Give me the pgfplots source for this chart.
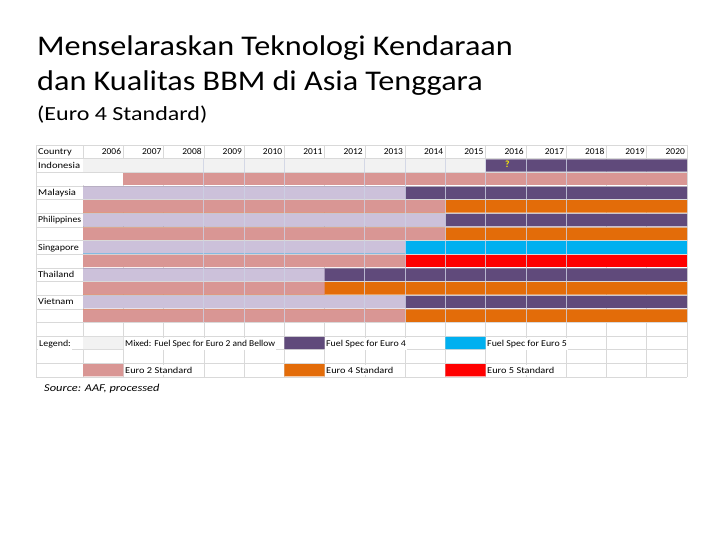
\documentclass[border=0pt]{standalone}
\usepackage{graphicx}
\usepackage{pgfplots}
\pgfplotsset{compat=1.18}
\usepackage{fontspec}
\setmainfont{Carlito}

\definecolor{cPurple}{RGB}{96,74,123}
\definecolor{cOrange}{RGB}{227,108,9}
\definecolor{cCyan}{RGB}{0,176,240}
\definecolor{cRed}{RGB}{255,0,0}
\definecolor{cPink}{RGB}{217,150,148}
\definecolor{cLav}{RGB}{204,193,218}
\definecolor{cMixed}{RGB}{242,242,242}
\definecolor{cGrid}{RGB}{217,217,217}
\definecolor{cOver}{RGB}{205,210,228}

% the slide text is set a bit wide
\newcommand\wide[2]{\scalebox{#1}[1]{#2}}

\begin{document}
\begin{tikzpicture}
\path[use as bounding box] (0,0) rectangle (720pt,-540pt);
% 1 unit x = one year column (0 = start of 2006), 1 unit y = one table row
\begin{axis}[
    at={(0,0)}, anchor=north west,
    width=720pt, height=540pt, scale only axis,
    hide axis, clip=false,
    xmin=-2.0611, xmax=15.818,
    ymin=-10.623, ymax=28.938, y dir=reverse,
    every axis plot/.append style={draw=none},
]
    % table grid (behind bars)
    \pgfplotsinvokeforeach{0,...,17}{
        \draw[cGrid, line width=0.6pt] (axis cs:-1.167,#1) -- (axis cs:15,#1);
    }
    \pgfplotsinvokeforeach{0,...,15}{
        \draw[cGrid, line width=0.6pt] (axis cs:#1,0) -- (axis cs:#1,17);
    }
    \draw[cGrid, line width=0.6pt] (axis cs:-1.167,0) -- (axis cs:-1.167,17);

    % later standard, full length (drawn first)
    \addplot[xbar, bar shift=0pt, bar width=12.4pt, fill=cPurple] coordinates {
        (15,1.5) (15,3.5) (15,5.5) (15,9.5) (15,11.5)};
    \addplot[xbar, bar shift=0pt, bar width=12.4pt, fill=cOrange] coordinates {
        (15,4.5) (15,6.5) (15,10.5) (15,12.5)};
    \addplot[xbar, bar shift=0pt, bar width=12.4pt, fill=cCyan] coordinates {(15,7.5)};
    \addplot[xbar, bar shift=0pt, bar width=12.4pt, fill=cRed] coordinates {(15,8.5)};
    \addplot[xbar, bar shift=0pt, bar width=12.4pt, fill=cPink] coordinates {(15,2.5)};

    % earlier standard, until year of change
    \addplot[xbar, bar shift=0pt, bar width=12.4pt, fill=cMixed] coordinates {(10,1.5)};
    \addplot[xbar, bar shift=0pt, bar width=12.4pt, fill=white] coordinates {(1,2.5)};
    \addplot[xbar, bar shift=0pt, bar width=12.4pt, fill=cLav] coordinates {
        (8,3.5) (9,5.5) (8,7.5) (6,9.5) (8,11.5)};
    \addplot[xbar, bar shift=0pt, bar width=12.4pt, fill=cPink] coordinates {
        (9,4.5) (9,6.5) (8,8.5) (6,10.5) (8,12.5)};

    % legend swatches
    \addplot[fill=cMixed] coordinates {(0,14.05) (1,14.05) (1,14.95) (0,14.95) (0,14.05)};
    \addplot[fill=cPurple] coordinates {(5,14.05) (6,14.05) (6,14.95) (5,14.95) (5,14.05)};
    \addplot[fill=cCyan] coordinates {(9,14.05) (10,14.05) (10,14.95) (9,14.95) (9,14.05)};
    \addplot[fill=cPink] coordinates {(0,16.05) (1,16.05) (1,16.95) (0,16.95) (0,16.05)};
    \addplot[fill=cOrange] coordinates {(5,16.05) (6,16.05) (6,16.95) (5,16.95) (5,16.05)};
    \addplot[fill=cRed] coordinates {(9,16.05) (10,16.05) (10,16.95) (9,16.95) (9,16.05)};

    % light column lines over the bars
    \pgfplotsinvokeforeach{3,4,5,7,8,9,10,11,12}{
        \draw[cOver, line width=0.8pt, opacity=0.8] (axis cs:#1,1) -- (axis cs:#1,13);
    }
\end{axis}

% titles
\node[anchor=base west, inner sep=0pt, font=\fontsize{28.5}{34}\selectfont] at (37pt,-56pt) {\wide{1.13}{Menselaraskan Teknologi Kendaraan}};
\node[anchor=base west, inner sep=0pt, font=\fontsize{28.5}{34}\selectfont] at (37pt,-91pt) {\wide{1.13}{dan Kualitas BBM di Asia Tenggara}};
\node[anchor=base west, inner sep=0pt, font=\fontsize{20}{24}\selectfont] at (37pt,-121pt) {\wide{1.2}{(Euro 4 Standard)}};

% header and country names
\begin{scope}[every node/.style={inner sep=0pt, font=\fontsize{9}{10}\selectfont}]
    \node[anchor=base west] at (38pt,-154.5pt) {\wide{1.15}{Country}};
    \foreach \k in {0,...,14} {
        \pgfmathsetmacro\xr{83+40.27*(\k+1)-2}
        \pgfmathtruncatemacro\yr{2006+\k}
        \node[anchor=base east] at (\xr pt,-154.5pt) {\wide{1.05}{\yr}};
    }
    \node[anchor=base west] at (38pt,-168.2pt) {\wide{1.18}{Indonesia}};
    \node[anchor=base west] at (38pt,-195.5pt) {\wide{1.18}{Malaysia}};
    \node[anchor=base west] at (38pt,-222.8pt) {\wide{1.08}{Philippines}};
    \node[anchor=base west] at (38pt,-250.1pt) {\wide{1.12}{Singapore}};
    \node[anchor=base west] at (38pt,-277.4pt) {\wide{1.15}{Thailand}};
    \node[anchor=base west] at (38pt,-304.7pt) {\wide{1.15}{Vietnam}};
    \node[anchor=base west, text=yellow, font=\fontsize{9.5}{10}\selectfont\bfseries] at (505pt,-167.5pt) {?};
    % legend (text cells are merged: no column lines through them)
    \begin{scope}[every node/.append style={fill=white, inner xsep=1pt, inner ysep=2pt}]
    \node[anchor=base west] at (38pt,-346.1pt) {\wide{1.1}{Legend:}};
    \node[anchor=base west] at (124pt,-346.1pt) {\wide{1.05}{Mixed: Fuel Spec for Euro 2 and Bellow}};
    \node[anchor=base west] at (325pt,-346.1pt) {\wide{1.1}{Fuel Spec for Euro 4}};
    \node[anchor=base west] at (486pt,-346.1pt) {\wide{1.1}{Fuel Spec for Euro 5}};
    \node[anchor=base west] at (124pt,-373.4pt) {\wide{1.15}{Euro 2 Standard}};
    \node[anchor=base west] at (325pt,-373.4pt) {\wide{1.15}{Euro 4 Standard}};
    \node[anchor=base west] at (486pt,-373.4pt) {\wide{1.15}{Euro 5 Standard}};
    \end{scope}
\end{scope}
\node[anchor=base west, inner sep=0pt, font=\fontsize{10.5}{12}\selectfont\itshape] at (44pt,-391pt) {\wide{1.18}{Source: AAF, processed}};
\end{tikzpicture}
\end{document}
